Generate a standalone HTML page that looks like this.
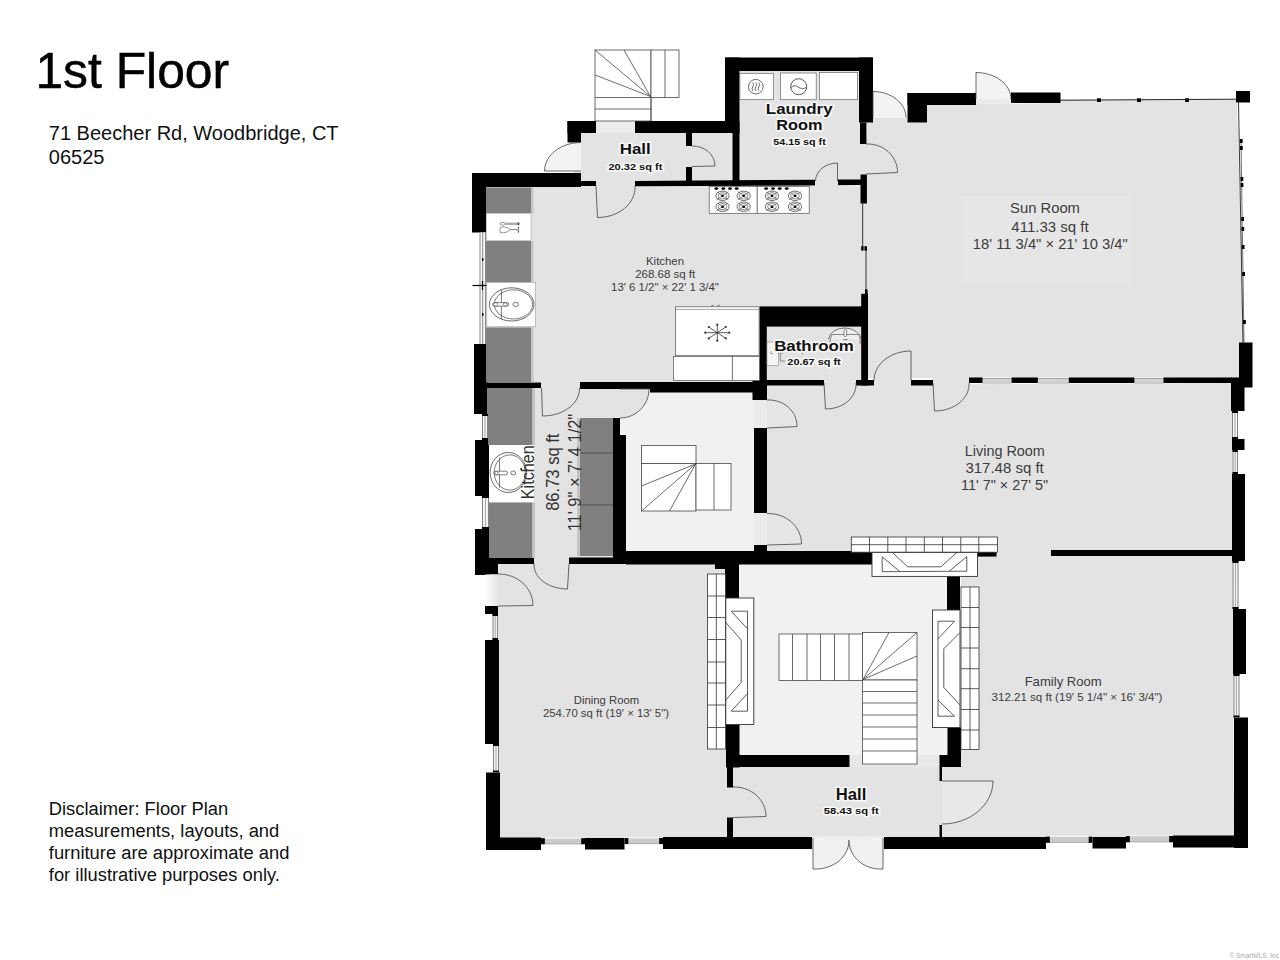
<!DOCTYPE html>
<html><head><meta charset="utf-8"><title>1st Floor</title>
<style>
html,body{margin:0;padding:0;background:#fff;}
body{width:1280px;height:960px;overflow:hidden;font-family:"Liberation Sans",sans-serif;}
svg{display:block;position:absolute;left:0;top:0;}
svg text{font-family:"Liberation Sans",sans-serif;}
</style></head><body>
<svg width="1280" height="960" viewBox="0 0 1280 960">
<defs><linearGradient id="gw" x1="0" y1="0" x2="1" y2="0"><stop offset="0" stop-color="#fff"/><stop offset="1" stop-color="#e3e3e3"/></linearGradient></defs>
<rect x="0" y="0" width="1280" height="960" fill="#fff"/>
<rect x="574" y="133" width="112" height="48" fill="#e3e3e3" />
<rect x="574" y="142.5" width="8" height="30.5" fill="#e3e3e3" />
<rect x="596" y="121" width="39" height="12" fill="#ececec" />
<rect x="691" y="133" width="41.5" height="48" fill="#e3e3e3" />
<rect x="686" y="146" width="5" height="21.5" fill="#e3e3e3" />
<rect x="739.5" y="71" width="120.5" height="110" fill="#e3e3e3" />
<rect x="486" y="186" width="380" height="196" fill="#e3e3e3" />
<rect x="596" y="180" width="39" height="7" fill="#e3e3e3" />
<rect x="815" y="179" width="23" height="8" fill="#e3e3e3" />
<rect x="859" y="144" width="8" height="31" fill="#e3e3e3" />
<rect x="976" y="93" width="35" height="13" fill="#ebebeb" />
<polygon points="866,117.5 907.5,117.5 907.5,122.5 927,122.5 927,105 1060,103 1060,100 1237,100 1244,342 1244,378 866,378" fill="#e3e3e3" />
<rect x="765" y="326" width="96" height="55" fill="#e3e3e3" />
<rect x="823" y="379" width="34" height="8" fill="#e3e3e3" />
<rect x="873" y="376" width="39" height="11" fill="#e3e3e3" />
<rect x="932" y="376" width="38" height="11" fill="#e3e3e3" />
<polygon points="767,385 1232,383 1234,837 942,837 942,767 961,767 961,576 977,576 977,552.5 767,552.5" fill="#e3e3e3" />
<rect x="488" y="388" width="126" height="170" fill="#e3e3e3" />
<rect x="541" y="382" width="39" height="38" fill="#e3e3e3" />
<rect x="580" y="388" width="41" height="31" fill="#e3e3e3" />
<rect x="534" y="557" width="35" height="8" fill="#e3e3e3" />
<rect x="620" y="392" width="134" height="159" fill="#f1f1f1" />
<rect x="753" y="399" width="15" height="30" fill="#ebebeb" />
<rect x="753" y="512" width="15" height="34" fill="#ebebeb" />
<rect x="498" y="564" width="229.5" height="274" fill="#e3e3e3" />
<rect x="739" y="564" width="209" height="192" fill="#f1f1f1" />
<rect x="849.5" y="755" width="90.0" height="13" fill="#e8e8e8" />
<rect x="726.5" y="786" width="216.5" height="52" fill="#e3e3e3" />
<rect x="733" y="767" width="209" height="71" fill="#e3e3e3" />
<rect x="812" y="836" width="72" height="14" fill="#ededed" />
<!--WALLS-->
<rect x="567.5" y="121" width="28.5" height="12" fill="#000" />
<rect x="567.5" y="121" width="13.5" height="21.5" fill="#000" />
<rect x="635" y="121" width="104.5" height="12" fill="#000" />
<rect x="725" y="57.5" width="14.5" height="75.5" fill="#000" />
<rect x="732.5" y="133" width="7.0" height="53" fill="#000" />
<rect x="725" y="57.5" width="148" height="13.5" fill="#000" />
<rect x="859" y="57.5" width="14" height="65.0" fill="#000" />
<rect x="860" y="122.5" width="6.4" height="21.5" fill="#000" />
<rect x="860.5" y="174.5" width="6.4" height="29.0" fill="#000" />
<rect x="472" y="173" width="109" height="14" fill="#000" />
<rect x="581" y="181" width="15" height="5" fill="#000" />
<rect x="472" y="173" width="14" height="59.5" fill="#000" />
<rect x="686" y="133" width="6" height="13" fill="#000" />
<rect x="686" y="167" width="6" height="14" fill="#000" />
<rect x="474" y="344" width="13.5" height="70" fill="#000" />
<rect x="487" y="382.5" width="54" height="5.5" fill="#000" />
<rect x="580" y="382" width="70" height="7" fill="#000" />
<rect x="650" y="382" width="104" height="10.5" fill="#000" />
<rect x="752.5" y="380" width="14.5" height="20" fill="#000" />
<rect x="766" y="380" width="58" height="5.5" fill="#000" />
<rect x="856" y="380" width="18" height="5.5" fill="#000" />
<rect x="911" y="380" width="22" height="5.5" fill="#000" />
<rect x="759.5" y="306.4" width="108.0" height="20.2" fill="#000" />
<rect x="759.5" y="326" width="7.3" height="55" fill="#000" />
<rect x="861.2" y="293.8" width="6.8" height="91.7" fill="#000" />
<rect x="969" y="377.5" width="263" height="5.5" fill="#000" />
<rect x="1239" y="342.5" width="13.5" height="45.0" fill="#000" />
<rect x="1231" y="377.5" width="13.5" height="33.5" fill="#000" />
<rect x="1232" y="439" width="12.5" height="11" fill="#000" />
<rect x="1232" y="474" width="13" height="87" fill="#000" />
<rect x="1233" y="609" width="13" height="65" fill="#000" />
<rect x="1234" y="717.5" width="14" height="130.5" fill="#000" />
<rect x="907.5" y="93" width="68.5" height="12" fill="#000" />
<rect x="907.5" y="93" width="19.5" height="29.5" fill="#000" />
<rect x="1011" y="92.5" width="49.5" height="10.5" fill="#000" />
<rect x="1236" y="91" width="14" height="11.5" fill="#000" />
<rect x="1051" y="550" width="181.5" height="6" fill="#000" />
<rect x="754" y="428" width="13" height="85" fill="#000" />
<rect x="754" y="545" width="13" height="8" fill="#000" />
<rect x="626" y="551" width="246.5" height="13.5" fill="#000" />
<rect x="977" y="551" width="19.5" height="5.6" fill="#000" />
<rect x="613" y="418" width="7" height="18" fill="#000" />
<rect x="613" y="435" width="13" height="123" fill="#000" />
<rect x="569" y="557.5" width="58" height="6.5" fill="#000" />
<rect x="489" y="557.5" width="45" height="6.5" fill="#000" />
<rect x="475" y="440" width="14" height="56" fill="#000" />
<rect x="475" y="529" width="14" height="46" fill="#000" />
<rect x="475" y="559" width="23" height="15.5" fill="#000" />
<rect x="485" y="606" width="13" height="8" fill="#000" />
<rect x="485" y="640" width="14" height="104" fill="#000" />
<rect x="486" y="772.5" width="14" height="77.5" fill="#000" />
<rect x="486" y="837.5" width="55" height="12.5" fill="#000" />
<rect x="585" y="838" width="39.5" height="11.5" fill="#000" />
<rect x="663" y="837" width="149" height="12" fill="#000" />
<rect x="884" y="837" width="162" height="12" fill="#000" />
<rect x="1092.5" y="837" width="33.5" height="11.5" fill="#000" />
<rect x="1173" y="835.5" width="75" height="12.0" fill="#000" />
<rect x="725" y="564" width="14" height="34" fill="#000" />
<rect x="715" y="564" width="11" height="5" fill="#000" />
<rect x="726" y="724.5" width="13.5" height="43.0" fill="#000" />
<rect x="726" y="755" width="123.5" height="12" fill="#000" />
<rect x="727" y="767" width="6" height="20.5" fill="#000" />
<rect x="727" y="817.5" width="6" height="20.5" fill="#000" />
<rect x="947" y="576" width="13" height="34" fill="#000" />
<rect x="947.5" y="727.5" width="13.5" height="28.5" fill="#000" />
<rect x="939.5" y="755" width="21.5" height="12" fill="#000" />
<rect x="939.5" y="767" width="2.5" height="14" fill="#000" />
<rect x="939.5" y="825" width="2.5" height="13" fill="#000" />
<polygon points="635,180.9 815,179.8 815,185.4 635,186.2" fill="#000" />
<polygon points="838,179.6 862,179.5 862,185.1 838,185.3" fill="#000" />
<!--COUNTERS-->
<rect x="486" y="187.5" width="45" height="25.5" fill="#808080" />
<rect x="531" y="187.5" width="2.5" height="25.5" fill="#c4c4c4" />
<rect x="486.4" y="213.6" width="44.6" height="27.0" fill="#fff" stroke="#999" stroke-width="0.5"/>
<rect x="486" y="241" width="45" height="41" fill="#808080" />
<rect x="531" y="241" width="2.5" height="41" fill="#c4c4c4" />
<rect x="486.8" y="282.6" width="48.8" height="44.2" fill="#fff" stroke="#999" stroke-width="0.6"/>
<rect x="486" y="327.5" width="45" height="55.0" fill="#808080" />
<rect x="531" y="327.5" width="2.5" height="55.0" fill="#c4c4c4" />
<rect x="488" y="388" width="44.5" height="57" fill="#808080" />
<rect x="532.5" y="388" width="2.5" height="57" fill="#c4c4c4" />
<rect x="489" y="445" width="45" height="57.5" fill="#fff" />
<rect x="489" y="502.5" width="43.5" height="55.5" fill="#808080" />
<rect x="532.5" y="502.5" width="2.5" height="55.5" fill="#c4c4c4" />
<rect x="577" y="418" width="3" height="138" fill="#c4c4c4" />
<rect x="580" y="418" width="33" height="138" fill="#808080" />
<line x1="580" y1="453" x2="613" y2="453" stroke="#444" stroke-width="0.8"/>
<line x1="580" y1="505" x2="613" y2="505" stroke="#444" stroke-width="0.8"/>
<!--WINDOWS-->
<rect x="479.5" y="232.5" width="6.5" height="111.5" fill="#f6f6f6" />
<line x1="480" y1="232.5" x2="480" y2="344" stroke="#444" stroke-width="0.6"/>
<line x1="482.7" y1="232.5" x2="482.7" y2="344" stroke="#444" stroke-width="0.6"/>
<line x1="485.5" y1="232.5" x2="485.5" y2="344" stroke="#444" stroke-width="0.6"/>
<rect x="482" y="258" width="1.4" height="3" fill="#000" />
<rect x="482" y="313" width="1.4" height="3" fill="#000" />
<line x1="472.5" y1="285.5" x2="486.5" y2="285.5" stroke="#000" stroke-width="1.2"/>
<line x1="482.5" y1="281" x2="482.5" y2="290" stroke="#000" stroke-width="1.2"/>
<rect x="482" y="414" width="6" height="26" fill="#f4f4f4" />
<line x1="482.5" y1="414" x2="482.5" y2="440" stroke="#555" stroke-width="0.7"/>
<line x1="487.5" y1="414" x2="487.5" y2="440" stroke="#555" stroke-width="0.7"/>
<line x1="485.0" y1="414" x2="485.0" y2="440" stroke="#777" stroke-width="0.6"/>
<rect x="482" y="414" width="6" height="2" fill="#000" />
<rect x="482" y="438" width="6" height="2" fill="#000" />
<rect x="482" y="496" width="7" height="33" fill="#f4f4f4" />
<line x1="482.5" y1="496" x2="482.5" y2="529" stroke="#555" stroke-width="0.7"/>
<line x1="488.5" y1="496" x2="488.5" y2="529" stroke="#555" stroke-width="0.7"/>
<line x1="485.5" y1="496" x2="485.5" y2="529" stroke="#777" stroke-width="0.6"/>
<rect x="482" y="496" width="7" height="2" fill="#000" />
<rect x="482" y="527" width="7" height="2" fill="#000" />
<rect x="492.5" y="614" width="5.5" height="26" fill="#f4f4f4" />
<line x1="493.0" y1="614" x2="493.0" y2="640" stroke="#555" stroke-width="0.7"/>
<line x1="497.5" y1="614" x2="497.5" y2="640" stroke="#555" stroke-width="0.7"/>
<line x1="495.25" y1="614" x2="495.25" y2="640" stroke="#777" stroke-width="0.6"/>
<rect x="492.5" y="614" width="5.5" height="2" fill="#000" />
<rect x="492.5" y="638" width="5.5" height="2" fill="#000" />
<rect x="493" y="744" width="6" height="28.5" fill="#f4f4f4" />
<line x1="493.5" y1="744" x2="493.5" y2="772.5" stroke="#555" stroke-width="0.7"/>
<line x1="498.5" y1="744" x2="498.5" y2="772.5" stroke="#555" stroke-width="0.7"/>
<line x1="496.0" y1="744" x2="496.0" y2="772.5" stroke="#777" stroke-width="0.6"/>
<rect x="493" y="744" width="6" height="2" fill="#000" />
<rect x="493" y="770.5" width="6" height="2.0" fill="#000" />
<rect x="1232" y="411" width="6" height="28" fill="#f4f4f4" />
<line x1="1232.5" y1="411" x2="1232.5" y2="439" stroke="#555" stroke-width="0.7"/>
<line x1="1237.5" y1="411" x2="1237.5" y2="439" stroke="#555" stroke-width="0.7"/>
<line x1="1235.0" y1="411" x2="1235.0" y2="439" stroke="#777" stroke-width="0.6"/>
<rect x="1232" y="411" width="6" height="2" fill="#000" />
<rect x="1232" y="437" width="6" height="2" fill="#000" />
<rect x="1232.5" y="450" width="5.5" height="24" fill="#f4f4f4" />
<line x1="1233.0" y1="450" x2="1233.0" y2="474" stroke="#555" stroke-width="0.7"/>
<line x1="1237.5" y1="450" x2="1237.5" y2="474" stroke="#555" stroke-width="0.7"/>
<line x1="1235.25" y1="450" x2="1235.25" y2="474" stroke="#777" stroke-width="0.6"/>
<rect x="1232.5" y="450" width="5.5" height="2" fill="#000" />
<rect x="1232.5" y="472" width="5.5" height="2" fill="#000" />
<rect x="1232.5" y="561" width="6.0" height="48" fill="#f4f4f4" />
<line x1="1233.0" y1="561" x2="1233.0" y2="609" stroke="#555" stroke-width="0.7"/>
<line x1="1238.0" y1="561" x2="1238.0" y2="609" stroke="#555" stroke-width="0.7"/>
<line x1="1235.5" y1="561" x2="1235.5" y2="609" stroke="#777" stroke-width="0.6"/>
<rect x="1232.5" y="561" width="6.0" height="2" fill="#000" />
<rect x="1232.5" y="607" width="6.0" height="2" fill="#000" />
<rect x="1233.5" y="674" width="6.0" height="43.5" fill="#f4f4f4" />
<line x1="1234.0" y1="674" x2="1234.0" y2="717.5" stroke="#555" stroke-width="0.7"/>
<line x1="1239.0" y1="674" x2="1239.0" y2="717.5" stroke="#555" stroke-width="0.7"/>
<line x1="1236.5" y1="674" x2="1236.5" y2="717.5" stroke="#777" stroke-width="0.6"/>
<rect x="1233.5" y="674" width="6.0" height="2" fill="#000" />
<rect x="1233.5" y="715.5" width="6.0" height="2.0" fill="#000" />
<rect x="541" y="837.4000000000001" width="44" height="1.2" fill="#f4f4f4" />
<rect x="541" y="838.6" width="44" height="5.6" fill="#cbcbcb" />
<line x1="541" y1="843.9000000000001" x2="585" y2="843.9000000000001" stroke="#999" stroke-width="0.6"/>
<rect x="541" y="838.2" width="3.8" height="6.0" fill="#000" />
<rect x="581.2" y="838.2" width="3.8" height="6.0" fill="#000" />
<rect x="624.5" y="837.2" width="38.5" height="1.2" fill="#f4f4f4" />
<rect x="624.5" y="838.4" width="38.5" height="5.6" fill="#cbcbcb" />
<line x1="624.5" y1="843.7" x2="663" y2="843.7" stroke="#999" stroke-width="0.6"/>
<rect x="624.5" y="838" width="3.8" height="6" fill="#000" />
<rect x="659.2" y="838" width="3.8" height="6" fill="#000" />
<rect x="1046" y="835.8000000000001" width="46.5" height="1.2" fill="#f4f4f4" />
<rect x="1046" y="837.0" width="46.5" height="5.8" fill="#cbcbcb" />
<line x1="1046" y1="842.5" x2="1092.5" y2="842.5" stroke="#999" stroke-width="0.6"/>
<rect x="1046" y="836.6" width="3.8" height="6.2" fill="#000" />
<rect x="1088.7" y="836.6" width="3.8" height="6.2" fill="#000" />
<rect x="1126" y="835.2" width="47" height="1.2" fill="#f4f4f4" />
<rect x="1126" y="836.4" width="47" height="5.8" fill="#cbcbcb" />
<line x1="1126" y1="841.9000000000001" x2="1173" y2="841.9000000000001" stroke="#999" stroke-width="0.6"/>
<rect x="1126" y="836" width="3.8" height="6.2" fill="#000" />
<rect x="1169.2" y="836" width="3.8" height="6.2" fill="#000" />
<rect x="982.5" y="377" width="29.1" height="1.4" fill="#f2f2f2" />
<rect x="982.5" y="378.4" width="29.1" height="5.0" fill="#d2d2d2" />
<line x1="982.5" y1="383.2" x2="1011.6" y2="383.2" stroke="#aaa" stroke-width="0.6"/>
<rect x="1037.8" y="377" width="31.0" height="1.4" fill="#f2f2f2" />
<rect x="1037.8" y="378.4" width="31.0" height="5.0" fill="#d2d2d2" />
<line x1="1037.8" y1="383.2" x2="1068.8" y2="383.2" stroke="#aaa" stroke-width="0.6"/>
<rect x="1134.4" y="377" width="29.1" height="1.4" fill="#f2f2f2" />
<rect x="1134.4" y="378.4" width="29.1" height="5.0" fill="#d2d2d2" />
<line x1="1134.4" y1="383.2" x2="1163.5" y2="383.2" stroke="#aaa" stroke-width="0.6"/>
<line x1="1060" y1="100.2" x2="1237" y2="99.2" stroke="#222" stroke-width="1.0"/>
<rect x="1097" y="98.3" width="4" height="3.7" fill="#000" />
<rect x="1137" y="98.3" width="4" height="3.7" fill="#000" />
<rect x="1185" y="98.3" width="4" height="3.7" fill="#000" />
<line x1="1238.5" y1="102" x2="1243" y2="342.5" stroke="#222" stroke-width="0.9"/>
<line x1="1241" y1="140" x2="1244" y2="342.5" stroke="#333" stroke-width="0.7"/>
<rect x="1239.8475" y="139" width="2.8" height="4" fill="#000" />
<rect x="1239.97" y="146" width="2.8" height="4" fill="#000" />
<rect x="1240.5125" y="177" width="2.8" height="4" fill="#000" />
<rect x="1240.6175" y="183" width="2.8" height="4" fill="#000" />
<rect x="1241.2125" y="217" width="2.8" height="4" fill="#000" />
<rect x="1241.3875" y="227" width="2.8" height="4" fill="#000" />
<rect x="1241.7025" y="245" width="2.8" height="4" fill="#000" />
<rect x="1242.175" y="272" width="2.8" height="4" fill="#000" />
<rect x="1243.015" y="320" width="2.8" height="4" fill="#000" />
<line x1="862.7" y1="202" x2="862.7" y2="248" stroke="#222" stroke-width="0.9"/>
<line x1="866" y1="248" x2="866" y2="294" stroke="#222" stroke-width="0.9"/>
<rect x="861.2" y="246.2" width="2.4" height="4.4" fill="#000" />
<rect x="864.4" y="246.2" width="2.6" height="4.4" fill="#000" />
<rect x="865" y="289.4" width="2.6" height="5.6" fill="#000" />
<!--DOORS-->
<path d="M581,171 L544.5,171 C544.5,155.26 560.84,142.5 581,142.5" fill="#f3f3f3" stroke="#444" stroke-width="0.8" />
<path d="M596,186 L597.5,217.5 C619.04,217.5 635.83,203.4 635,186" fill="#e3e3e3" stroke="#444" stroke-width="0.8" />
<path d="M692,166.5 L715,166 C715.0,154.68 704.7,145.72 692,146" fill="#e3e3e3" stroke="#444" stroke-width="0.8" />
<path d="M837.5,181 L837.5,163 C825.35,163.0 815.5,171.06 815.5,181" fill="#e3e3e3" stroke="#444" stroke-width="0.8" />
<path d="M866,174 L897.5,172.5 C897.5,155.93 883.4,143.17 866,144" fill="#e3e3e3" stroke="#444" stroke-width="0.8" />
<path d="M873,117.5 L873,91.5 C891.23,91.5 906.0,103.14 906,117.5" fill="#f3f3f3" stroke="#444" stroke-width="0.8" />
<path d="M976,99 L976,72.5 C995.33,72.5 1011.0,84.36 1011,99" fill="#f3f3f3" stroke="#444" stroke-width="0.8" />
<path d="M541.5,388 L542.5,416 C563.49,416.0 580.05,403.46 579.5,388" fill="#e3e3e3" stroke="#444" stroke-width="0.8" />
<path d="M620,389 L649,389 C649.0,405.02 636.02,418.0 620,418" fill="#e3e3e3" stroke="#444" stroke-width="0.8" />
<path d="M767,428 L797,426.5 C797.0,411.04 783.57,399.17 767,400" fill="#e6e6e6" stroke="#444" stroke-width="0.8" />
<path d="M767,545 L801.5,544 C801.5,526.6 786.05,512.95 767,513.5" fill="#e6e6e6" stroke="#444" stroke-width="0.8" />
<path d="M824,383 L825.5,409 C843.17,409.0 856.83,397.36 856,383" fill="#e3e3e3" stroke="#444" stroke-width="0.8" />
<path d="M911,380.5 L911,351 C890.56,351.0 874.0,364.21 874,380.5" fill="#e3e3e3" stroke="#444" stroke-width="0.8" />
<path d="M933,383 L934.5,411 C954.38,411.0 969.83,398.46 969,383" fill="#e3e3e3" stroke="#444" stroke-width="0.8" />
<path d="M569,563.5 L567.5,589 C548.17,589.0 533.17,577.58 534,563.5" fill="#e3e3e3" stroke="#444" stroke-width="0.8" />
<path d="M498,606 L533,605.5 C533.0,587.83 517.33,573.72 498,574" fill="#e3e3e3" stroke="#444" stroke-width="0.8" />
<rect x="485" y="574.5" width="13.5" height="31.5" fill="url(#gw)"/>
<path d="M733,817.5 L766,816.5 C766.0,799.65 751.23,786.45 733,787" fill="#e3e3e3" stroke="#444" stroke-width="0.8" />
<path d="M942,781 L993,781 C993.0,804.75 970.17,824.0 942,824" fill="#e9e9e9" stroke="#444" stroke-width="0.8" />
<path d="M813,838 L813,869 C832.88,870.1 849.0,857.12 849,840" fill="#f1f1f1" stroke="#444" stroke-width="0.8" />
<path d="M883,838 L883,869 C864.22,870.1 849.0,857.12 849,840" fill="#f1f1f1" stroke="#444" stroke-width="0.8" />
<!--STAIRS-->
<rect x="595" y="50" width="56" height="71" fill="#fff" stroke="#484848" stroke-width="0.8"/>
<rect x="651" y="50" width="28" height="47.5" fill="#fff" stroke="#484848" stroke-width="0.8"/>
<line x1="665" y1="50" x2="665" y2="97.5" stroke="#484848" stroke-width="0.8"/>
<line x1="651" y1="97.5" x2="651" y2="121" stroke="#484848" stroke-width="0.8"/>
<line x1="595" y1="97.5" x2="651" y2="97.5" stroke="#484848" stroke-width="0.8"/>
<line x1="595" y1="109" x2="651" y2="109" stroke="#484848" stroke-width="0.8"/>
<line x1="650.5" y1="96.5" x2="595" y2="50" stroke="#484848" stroke-width="0.8"/>
<line x1="650.5" y1="96.5" x2="624" y2="50" stroke="#484848" stroke-width="0.8"/>
<line x1="650.5" y1="96.5" x2="595" y2="75" stroke="#484848" stroke-width="0.8"/>
<rect x="641.5" y="445.5" width="54.5" height="18.0" fill="#fff" stroke="#484848" stroke-width="0.8"/>
<rect x="641.5" y="463.5" width="54.5" height="47.5" fill="#fff" stroke="#484848" stroke-width="0.8"/>
<rect x="696" y="463.5" width="35" height="46.5" fill="#fff" stroke="#484848" stroke-width="0.8"/>
<line x1="714" y1="463.5" x2="714" y2="510" stroke="#484848" stroke-width="0.8"/>
<line x1="695.5" y1="464" x2="641.5" y2="486" stroke="#484848" stroke-width="0.8"/>
<line x1="695.5" y1="464" x2="641.5" y2="511" stroke="#484848" stroke-width="0.8"/>
<line x1="695.5" y1="464" x2="669.5" y2="511" stroke="#484848" stroke-width="0.8"/>
<rect x="779" y="634" width="83.5" height="46.5" fill="#fff" stroke="#484848" stroke-width="0.8"/>
<line x1="792.5" y1="634" x2="792.5" y2="680.5" stroke="#484848" stroke-width="0.8"/>
<line x1="807" y1="634" x2="807" y2="680.5" stroke="#484848" stroke-width="0.8"/>
<line x1="820.5" y1="634" x2="820.5" y2="680.5" stroke="#484848" stroke-width="0.8"/>
<line x1="834.5" y1="634" x2="834.5" y2="680.5" stroke="#484848" stroke-width="0.8"/>
<line x1="849" y1="634" x2="849" y2="680.5" stroke="#484848" stroke-width="0.8"/>
<rect x="862.5" y="632.5" width="54.5" height="47.5" fill="#fff" stroke="#484848" stroke-width="0.8"/>
<line x1="863" y1="679.5" x2="889" y2="632.5" stroke="#484848" stroke-width="0.8"/>
<line x1="863" y1="679.5" x2="917" y2="632.5" stroke="#484848" stroke-width="0.8"/>
<line x1="863" y1="679.5" x2="917" y2="656" stroke="#484848" stroke-width="0.8"/>
<rect x="862.5" y="680" width="54.5" height="84" fill="#fff" stroke="#484848" stroke-width="0.8"/>
<line x1="862.5" y1="691.5" x2="917" y2="691.5" stroke="#484848" stroke-width="0.8"/>
<line x1="862.5" y1="703" x2="917" y2="703" stroke="#484848" stroke-width="0.8"/>
<line x1="862.5" y1="715" x2="917" y2="715" stroke="#484848" stroke-width="0.8"/>
<line x1="862.5" y1="727" x2="917" y2="727" stroke="#484848" stroke-width="0.8"/>
<line x1="862.5" y1="739" x2="917" y2="739" stroke="#484848" stroke-width="0.8"/>
<line x1="862.5" y1="751" x2="917" y2="751" stroke="#484848" stroke-width="0.8"/>
<!--TILES & FIREPLACES-->
<rect x="851.3" y="537" width="146.1" height="15.2" fill="#fff" stroke="#333" stroke-width="0.8"/>
<line x1="851.3" y1="544.7" x2="997.4" y2="544.7" stroke="#333" stroke-width="0.8"/>
<line x1="869.5" y1="537" x2="869.5" y2="552.2" stroke="#333" stroke-width="0.8"/>
<line x1="887.8" y1="537" x2="887.8" y2="552.2" stroke="#333" stroke-width="0.8"/>
<line x1="906" y1="537" x2="906" y2="552.2" stroke="#333" stroke-width="0.8"/>
<line x1="924.3" y1="537" x2="924.3" y2="552.2" stroke="#333" stroke-width="0.8"/>
<line x1="942.5" y1="537" x2="942.5" y2="552.2" stroke="#333" stroke-width="0.8"/>
<line x1="960.8" y1="537" x2="960.8" y2="552.2" stroke="#333" stroke-width="0.8"/>
<line x1="978.8" y1="537" x2="978.8" y2="552.2" stroke="#333" stroke-width="0.8"/>
<rect x="872" y="552.4" width="105.5" height="24.0" fill="#fff" stroke="#333" stroke-width="0.9"/>
<path d="M882.2,556.9 L899.8,571.5 M882.2,556.9 L882.2,571.7 L966.8,571.2 L966.8,556.5 L949.2,571.2" fill="none" stroke="#333" stroke-width="0.8" />
<path d="M892.5,552.5 L907.7,566.8 L940.9,566.8 L956.9,552.5" fill="none" stroke="#333" stroke-width="0.8" />
<rect x="707.5" y="574" width="18.0" height="175" fill="#fff" stroke="#333" stroke-width="0.8"/>
<line x1="716.3" y1="574" x2="716.3" y2="749" stroke="#333" stroke-width="0.8"/>
<line x1="707.5" y1="596" x2="725.5" y2="596" stroke="#333" stroke-width="0.8"/>
<line x1="707.5" y1="617.5" x2="725.5" y2="617.5" stroke="#333" stroke-width="0.8"/>
<line x1="707.5" y1="639.5" x2="725.5" y2="639.5" stroke="#333" stroke-width="0.8"/>
<line x1="707.5" y1="662" x2="725.5" y2="662" stroke="#333" stroke-width="0.8"/>
<line x1="707.5" y1="683" x2="725.5" y2="683" stroke="#333" stroke-width="0.8"/>
<line x1="707.5" y1="705" x2="725.5" y2="705" stroke="#333" stroke-width="0.8"/>
<line x1="707.5" y1="727.5" x2="725.5" y2="727.5" stroke="#333" stroke-width="0.8"/>
<rect x="725.8" y="598" width="28.0" height="126.5" fill="#fff" stroke="#333" stroke-width="0.9"/>
<path d="M731.2,611.2 L747.5,628.8 M731.2,611.2 L747.5,611.2 L747.5,711.2 L731.2,711.2 L747.5,693.5" fill="none" stroke="#333" stroke-width="0.8" />
<path d="M725.8,622.5 L741.2,640 L741.2,682.5 L725.8,700" fill="none" stroke="#333" stroke-width="0.8" />
<rect x="961" y="587" width="18" height="162.5" fill="#fff" stroke="#333" stroke-width="0.8"/>
<line x1="970" y1="587" x2="970" y2="749.5" stroke="#333" stroke-width="0.8"/>
<line x1="961" y1="607.5" x2="979" y2="607.5" stroke="#333" stroke-width="0.8"/>
<line x1="961" y1="627.5" x2="979" y2="627.5" stroke="#333" stroke-width="0.8"/>
<line x1="961" y1="648" x2="979" y2="648" stroke="#333" stroke-width="0.8"/>
<line x1="961" y1="668.7" x2="979" y2="668.7" stroke="#333" stroke-width="0.8"/>
<line x1="961" y1="688.7" x2="979" y2="688.7" stroke="#333" stroke-width="0.8"/>
<line x1="961" y1="709.5" x2="979" y2="709.5" stroke="#333" stroke-width="0.8"/>
<line x1="961" y1="730" x2="979" y2="730" stroke="#333" stroke-width="0.8"/>
<rect x="932.5" y="610" width="27.5" height="117.5" fill="#fff" stroke="#333" stroke-width="0.9"/>
<path d="M954.5,621.2 L938,638.8 M954.5,621.2 L938,621.2 L938,716.2 L954.5,716.2 L938,700" fill="none" stroke="#333" stroke-width="0.8" />
<path d="M960,632.5 L943.8,648.8 L943.8,687.5 L960,705" fill="none" stroke="#333" stroke-width="0.8" />
<!--FIXTURES-->
<rect x="739.9" y="73.3" width="33.4" height="26.4" fill="#fff" stroke="#666" stroke-width="0.7"/>
<rect x="780.5" y="73" width="35.7" height="26.7" fill="#fff" stroke="#666" stroke-width="0.7"/>
<rect x="819.5" y="72.5" width="38.0" height="27.2" fill="#fff" stroke="#666" stroke-width="0.7"/>
<circle cx="755.8" cy="86.7" r="7.3" fill="none" stroke="#444" stroke-width="0.8"/>
<path d="M752.8,82.5 q1.6,2.1 0,4.2 q-1.6,2.1 0,4.2" fill="none" stroke="#444" stroke-width="0.8" />
<path d="M755.8,82.5 q1.6,2.1 0,4.2 q-1.6,2.1 0,4.2" fill="none" stroke="#444" stroke-width="0.8" />
<path d="M758.8,82.5 q1.6,2.1 0,4.2 q-1.6,2.1 0,4.2" fill="none" stroke="#444" stroke-width="0.8" />
<circle cx="798.7" cy="86.7" r="8" fill="none" stroke="#444" stroke-width="0.9"/>
<path d="M791,87.5 q3.8,-3.5 7.7,0 q3.8,2.5 7.7,0" fill="none" stroke="#444" stroke-width="0.8" />
<rect x="709.2" y="186.4" width="48.0" height="26.9" fill="#fff" stroke="#555" stroke-width="0.7"/>
<rect x="757.2" y="186.4" width="52.0" height="26.9" fill="#fff" stroke="#555" stroke-width="0.7"/>
<ellipse cx="722.5" cy="195.8" rx="6.6" ry="4.7" fill="none" stroke="#444" stroke-width="0.8"/>
<ellipse cx="722.5" cy="195.8" rx="4.2" ry="3" fill="none" stroke="#444" stroke-width="0.6"/>
<line x1="716.5" y1="191.8" x2="728.5" y2="199.8" stroke="#444" stroke-width="0.6"/>
<line x1="716.5" y1="199.8" x2="728.5" y2="191.8" stroke="#444" stroke-width="0.6"/>
<circle cx="722.5" cy="195.8" r="1.3" fill="#000"/>
<ellipse cx="722.5" cy="206.7" rx="6.6" ry="4.7" fill="none" stroke="#444" stroke-width="0.8"/>
<ellipse cx="722.5" cy="206.7" rx="4.2" ry="3" fill="none" stroke="#444" stroke-width="0.6"/>
<line x1="716.5" y1="202.7" x2="728.5" y2="210.7" stroke="#444" stroke-width="0.6"/>
<line x1="716.5" y1="210.7" x2="728.5" y2="202.7" stroke="#444" stroke-width="0.6"/>
<circle cx="722.5" cy="206.7" r="1.3" fill="#000"/>
<ellipse cx="743.7" cy="195.8" rx="6.6" ry="4.7" fill="none" stroke="#444" stroke-width="0.8"/>
<ellipse cx="743.7" cy="195.8" rx="4.2" ry="3" fill="none" stroke="#444" stroke-width="0.6"/>
<line x1="737.7" y1="191.8" x2="749.7" y2="199.8" stroke="#444" stroke-width="0.6"/>
<line x1="737.7" y1="199.8" x2="749.7" y2="191.8" stroke="#444" stroke-width="0.6"/>
<circle cx="743.7" cy="195.8" r="1.3" fill="#000"/>
<ellipse cx="743.7" cy="206.7" rx="6.6" ry="4.7" fill="none" stroke="#444" stroke-width="0.8"/>
<ellipse cx="743.7" cy="206.7" rx="4.2" ry="3" fill="none" stroke="#444" stroke-width="0.6"/>
<line x1="737.7" y1="202.7" x2="749.7" y2="210.7" stroke="#444" stroke-width="0.6"/>
<line x1="737.7" y1="210.7" x2="749.7" y2="202.7" stroke="#444" stroke-width="0.6"/>
<circle cx="743.7" cy="206.7" r="1.3" fill="#000"/>
<ellipse cx="772" cy="195.8" rx="6.6" ry="4.7" fill="none" stroke="#444" stroke-width="0.8"/>
<ellipse cx="772" cy="195.8" rx="4.2" ry="3" fill="none" stroke="#444" stroke-width="0.6"/>
<line x1="766" y1="191.8" x2="778" y2="199.8" stroke="#444" stroke-width="0.6"/>
<line x1="766" y1="199.8" x2="778" y2="191.8" stroke="#444" stroke-width="0.6"/>
<circle cx="772" cy="195.8" r="1.3" fill="#000"/>
<ellipse cx="772" cy="206.7" rx="6.6" ry="4.7" fill="none" stroke="#444" stroke-width="0.8"/>
<ellipse cx="772" cy="206.7" rx="4.2" ry="3" fill="none" stroke="#444" stroke-width="0.6"/>
<line x1="766" y1="202.7" x2="778" y2="210.7" stroke="#444" stroke-width="0.6"/>
<line x1="766" y1="210.7" x2="778" y2="202.7" stroke="#444" stroke-width="0.6"/>
<circle cx="772" cy="206.7" r="1.3" fill="#000"/>
<ellipse cx="795" cy="195.8" rx="6.6" ry="4.7" fill="none" stroke="#444" stroke-width="0.8"/>
<ellipse cx="795" cy="195.8" rx="4.2" ry="3" fill="none" stroke="#444" stroke-width="0.6"/>
<line x1="789" y1="191.8" x2="801" y2="199.8" stroke="#444" stroke-width="0.6"/>
<line x1="789" y1="199.8" x2="801" y2="191.8" stroke="#444" stroke-width="0.6"/>
<circle cx="795" cy="195.8" r="1.3" fill="#000"/>
<ellipse cx="795" cy="206.7" rx="6.6" ry="4.7" fill="none" stroke="#444" stroke-width="0.8"/>
<ellipse cx="795" cy="206.7" rx="4.2" ry="3" fill="none" stroke="#444" stroke-width="0.6"/>
<line x1="789" y1="202.7" x2="801" y2="210.7" stroke="#444" stroke-width="0.6"/>
<line x1="789" y1="210.7" x2="801" y2="202.7" stroke="#444" stroke-width="0.6"/>
<circle cx="795" cy="206.7" r="1.3" fill="#000"/>
<ellipse cx="716.3" cy="188.6" rx="2" ry="1.3" fill="#111"/>
<ellipse cx="723.3" cy="188.6" rx="2" ry="1.3" fill="#111"/>
<ellipse cx="730" cy="188.6" rx="2" ry="1.3" fill="#111"/>
<ellipse cx="736.7" cy="188.6" rx="2" ry="1.3" fill="#111"/>
<ellipse cx="766.2" cy="188.6" rx="2" ry="1.3" fill="#111"/>
<ellipse cx="773" cy="188.6" rx="2" ry="1.3" fill="#111"/>
<ellipse cx="779.7" cy="188.6" rx="2" ry="1.3" fill="#111"/>
<ellipse cx="786.7" cy="188.6" rx="2" ry="1.3" fill="#111"/>
<rect x="675.4" y="306.8" width="83.7" height="48.9" fill="#fff" stroke="#555" stroke-width="0.7"/>
<line x1="675.4" y1="309.4" x2="759.1" y2="309.4" stroke="#666" stroke-width="0.6"/>
<rect x="673.6" y="356.5" width="58.7" height="24.1" fill="#fff" stroke="#555" stroke-width="0.7"/>
<rect x="732.3" y="356.5" width="27.1" height="24.1" fill="#fff" stroke="#555" stroke-width="0.7"/>
<path d="M711,306 l3,-1 m3,1 l3,-1" fill="none" stroke="#555" stroke-width="0.7" />
<line x1="717.3" y1="332.7" x2="729.3" y2="332.7" stroke="#333" stroke-width="0.8"/>
<circle cx="729.3" cy="332.7" r="1.1" fill="#333"/>
<line x1="717.3" y1="332.7" x2="725.8" y2="338.4" stroke="#333" stroke-width="0.8"/>
<circle cx="725.8" cy="338.4" r="1.1" fill="#333"/>
<line x1="717.3" y1="332.7" x2="717.3" y2="340.7" stroke="#333" stroke-width="0.8"/>
<circle cx="717.3" cy="340.7" r="1.1" fill="#333"/>
<line x1="717.3" y1="332.7" x2="708.8" y2="338.4" stroke="#333" stroke-width="0.8"/>
<circle cx="708.8" cy="338.4" r="1.1" fill="#333"/>
<line x1="717.3" y1="332.7" x2="705.3" y2="332.7" stroke="#333" stroke-width="0.8"/>
<circle cx="705.3" cy="332.7" r="1.1" fill="#333"/>
<line x1="717.3" y1="332.7" x2="708.8" y2="327.0" stroke="#333" stroke-width="0.8"/>
<circle cx="708.8" cy="327.0" r="1.1" fill="#333"/>
<line x1="717.3" y1="332.7" x2="717.3" y2="324.7" stroke="#333" stroke-width="0.8"/>
<circle cx="717.3" cy="324.7" r="1.1" fill="#333"/>
<line x1="717.3" y1="332.7" x2="725.8" y2="327.0" stroke="#333" stroke-width="0.8"/>
<circle cx="725.8" cy="327.0" r="1.1" fill="#333"/>
<ellipse cx="502.6" cy="223.8" rx="2.6" ry="1.4" fill="#fff" stroke="#666" stroke-width="0.7"/>
<rect x="505.3" y="222.6" width="13.7" height="2.4" fill="#aaa" />
<rect x="517.6" y="222.4" width="1.8" height="2.8" fill="#555" />
<path d="M500.3,227.2 C499.8,229 499.8,231 500.4,232.6 C504.5,233.4 508,232 510.2,229.6 C507.5,227.2 504,226.4 500.3,227.2 Z" fill="#fff" stroke="#666" stroke-width="0.7" />
<line x1="510.2" y1="229.6" x2="517" y2="229.6" stroke="#555" stroke-width="0.8"/>
<polygon points="519.2,227.3 519.2,232.3 516.6,229.7" fill="#999" />
<circle cx="518.4" cy="227.6" r="0.7" fill="#333"/><circle cx="518.4" cy="231.9" r="0.7" fill="#333"/>
<ellipse cx="511.7" cy="304.4" rx="22.3" ry="16.6" fill="#fff" stroke="#444" stroke-width="0.8"/>
<ellipse cx="513.5" cy="304.4" rx="19.1" ry="14.600000000000001" fill="none" stroke="#444" stroke-width="0.7"/>
<line x1="501.4" y1="289.99999999999994" x2="501.4" y2="318.8" stroke="#444" stroke-width="0.7"/>
<rect x="492.7" y="302.59999999999997" width="16" height="3.6" rx="1.8" fill="#fff" stroke="#444" stroke-width="0.7"/>
<ellipse cx="495.7" cy="304.4" rx="2" ry="1.6" fill="#fff" stroke="#444" stroke-width="0.6"/>
<ellipse cx="505.2" cy="304.4" rx="2" ry="1.6" fill="#fff" stroke="#444" stroke-width="0.6"/>
<ellipse cx="515.7" cy="304.4" rx="2.8" ry="2.1" fill="#fff" stroke="#444" stroke-width="0.7"/>
<ellipse cx="508.3" cy="472.5" rx="18.2" ry="20" fill="#fff" stroke="#444" stroke-width="0.8"/>
<ellipse cx="509.8" cy="472.5" rx="15.6" ry="17.6" fill="none" stroke="#444" stroke-width="0.7"/>
<line x1="499.5" y1="457.5" x2="499.5" y2="487.5" stroke="#444" stroke-width="0.7"/>
<rect x="493.8" y="471.2" width="13.6" height="3.6" rx="1.8" fill="#fff" stroke="#444" stroke-width="0.7"/>
<ellipse cx="496.5" cy="473" rx="1.8" ry="1.5" fill="#fff" stroke="#444" stroke-width="0.6"/>
<ellipse cx="513.2" cy="473" rx="2.4" ry="2" fill="#fff" stroke="#444" stroke-width="0.7"/>
<circle cx="521.2" cy="469" r="1" fill="#111"/>
<path d="M828.5,339.5 A16.3,12.5 0 0 1 861,339.5" fill="#eee" stroke="#555" stroke-width="0.8" />
<path d="M830,344 A15,16 0 0 1 832,334.5 L859,334.5 A15,16 0 0 1 860,344" fill="none" stroke="#888" stroke-width="1.0" />
<rect x="844" y="329.5" width="2.6" height="7" rx="1.2" fill="#fff" stroke="#444" stroke-width="0.6"/>
<line x1="843.5" y1="339.5" x2="847.5" y2="339.5" stroke="#444" stroke-width="0.7"/>
<rect x="767" y="342" width="11.3" height="23.5" fill="#f4f4f4" stroke="#888" stroke-width="0.6"/>
<path d="M778.3,353 l2,0 l0,8 l5,0 M771,351.5 a1.3,1.3 0 1 0 2,1.5 M782,352 l0,2 M803,352 l-1,2.5" fill="none" stroke="#666" stroke-width="0.7" />
<!--TEXT-->
<rect x="960.6" y="195.8" width="171.0" height="87.6" fill="#e6e6e6" />
<text x="1045" y="213.3" font-size="14.8" text-anchor="middle" font-weight="normal" fill="#3c3c3c" >Sun Room</text>
<text x="1050" y="232" font-size="15" text-anchor="middle" font-weight="normal" fill="#3c3c3c" >411.33 sq ft</text>
<text x="1050.3" y="248.8" font-size="14.75" text-anchor="middle" font-weight="normal" fill="#3c3c3c" >18' 11 3/4&quot; × 21' 10 3/4&quot;</text>
<text x="665" y="265" font-size="11.4" text-anchor="middle" font-weight="normal" fill="#3c3c3c" >Kitchen</text>
<text x="665.2" y="278" font-size="11.5" text-anchor="middle" font-weight="normal" fill="#3c3c3c" >268.68 sq ft</text>
<text x="665" y="290.8" font-size="11.4" text-anchor="middle" font-weight="normal" fill="#3c3c3c" >13' 6 1/2&quot; × 22' 1 3/4&quot;</text>
<text x="1004.8" y="455.8" font-size="14.4" text-anchor="middle" font-weight="normal" fill="#3c3c3c" >Living Room</text>
<text x="1004.6" y="472.5" font-size="15" text-anchor="middle" font-weight="normal" fill="#3c3c3c" >317.48 sq ft</text>
<text x="1004.6" y="489.5" font-size="14.4" text-anchor="middle" font-weight="normal" fill="#3c3c3c" >11' 7&quot; × 27' 5&quot;</text>
<text x="606.5" y="703.8" font-size="11.3" text-anchor="middle" font-weight="normal" fill="#3c3c3c" >Dining Room</text>
<text x="606" y="717" font-size="11.35" text-anchor="middle" font-weight="normal" fill="#3c3c3c" >254.70 sq ft (19' × 13' 5&quot;)</text>
<text x="1063.2" y="685.5" font-size="13.1" text-anchor="middle" font-weight="normal" fill="#3c3c3c" >Family Room</text>
<text x="1077" y="700.5" font-size="11.55" text-anchor="middle" font-weight="normal" fill="#3c3c3c" >312.21 sq ft (19' 5 1/4&quot; × 16' 3/4&quot;)</text>
<text x="635.2" y="154.2" font-size="14.8" text-anchor="middle" font-weight="bold" fill="#111" stroke="#f8f8f8" stroke-width="3.2" stroke-linejoin="round" paint-order="stroke" textLength="31" lengthAdjust="spacingAndGlyphs">Hall</text>
<text x="635.4" y="169.8" font-size="9.1" text-anchor="middle" font-weight="bold" fill="#111" stroke="#f8f8f8" stroke-width="3.2" stroke-linejoin="round" paint-order="stroke" textLength="53.9" lengthAdjust="spacingAndGlyphs">20.32 sq ft</text>
<text x="799.2" y="113.7" font-size="14.5" text-anchor="middle" font-weight="bold" fill="#111" stroke="#f8f8f8" stroke-width="3.2" stroke-linejoin="round" paint-order="stroke" textLength="66.7" lengthAdjust="spacingAndGlyphs">Laundry</text>
<text x="799.4" y="129.7" font-size="14.5" text-anchor="middle" font-weight="bold" fill="#111" stroke="#f8f8f8" stroke-width="3.2" stroke-linejoin="round" paint-order="stroke" textLength="46.2" lengthAdjust="spacingAndGlyphs">Room</text>
<text x="799.5" y="145.3" font-size="9.3" text-anchor="middle" font-weight="bold" fill="#111" stroke="#f8f8f8" stroke-width="3.2" stroke-linejoin="round" paint-order="stroke" textLength="52.5" lengthAdjust="spacingAndGlyphs">54.15 sq ft</text>
<text x="814" y="350.5" font-size="14.3" text-anchor="middle" font-weight="bold" fill="#111" stroke="#f8f8f8" stroke-width="3.2" stroke-linejoin="round" paint-order="stroke" textLength="79.6" lengthAdjust="spacingAndGlyphs">Bathroom</text>
<text x="814" y="365.2" font-size="9.2" text-anchor="middle" font-weight="bold" fill="#111" stroke="#f8f8f8" stroke-width="3.2" stroke-linejoin="round" paint-order="stroke" textLength="53.3" lengthAdjust="spacingAndGlyphs">20.67 sq ft</text>
<text x="851" y="800" font-size="16" text-anchor="middle" font-weight="bold" fill="#111" stroke="#f8f8f8" stroke-width="3.2" stroke-linejoin="round" paint-order="stroke" textLength="30.5" lengthAdjust="spacingAndGlyphs">Hall</text>
<text x="851.3" y="814.3" font-size="9.4" text-anchor="middle" font-weight="bold" fill="#111" stroke="#f8f8f8" stroke-width="3.2" stroke-linejoin="round" paint-order="stroke" textLength="55" lengthAdjust="spacingAndGlyphs">58.43 sq ft</text>
<text transform="translate(534.4,472.2) rotate(-90)" x="0" y="0" font-size="18" text-anchor="middle" fill="#333" textLength="54" lengthAdjust="spacingAndGlyphs">Kitchen</text>
<text transform="translate(558.6,472.2) rotate(-90)" x="0" y="0" font-size="18.5" text-anchor="middle" fill="#333" textLength="77.3" lengthAdjust="spacingAndGlyphs">86.73 sq ft</text>
<text transform="translate(581.2,472.6) rotate(-90)" x="0" y="0" font-size="18.5" text-anchor="middle" fill="#333" textLength="117.5" lengthAdjust="spacingAndGlyphs">11' 9&quot; × 7' 4 1/2&quot;</text>
<text x="35.4" y="87.9" font-size="49.8" text-anchor="start" font-weight="normal" fill="#000" stroke="#000" stroke-width="0.5">1st Floor</text>
<text x="48.8" y="140.2" font-size="20" text-anchor="start" font-weight="normal" fill="#111" >71 Beecher Rd, Woodbridge, CT</text>
<text x="48.8" y="163.9" font-size="20" text-anchor="start" font-weight="normal" fill="#111" >06525</text>
<text x="48.8" y="814.6" font-size="18.35" text-anchor="start" font-weight="normal" fill="#111" >Disclaimer: Floor Plan</text>
<text x="48.8" y="836.6" font-size="18.35" text-anchor="start" font-weight="normal" fill="#111" >measurements, layouts, and</text>
<text x="48.8" y="858.6" font-size="18.35" text-anchor="start" font-weight="normal" fill="#111" >furniture are approximate and</text>
<text x="48.8" y="880.6" font-size="18.35" text-anchor="start" font-weight="normal" fill="#111" >for illustrative purposes only.</text>
<text x="1279" y="957.5" font-size="6.5" text-anchor="end" font-weight="normal" fill="#aaa" >© SmartMLS, Inc</text>
</svg>
</body></html>
